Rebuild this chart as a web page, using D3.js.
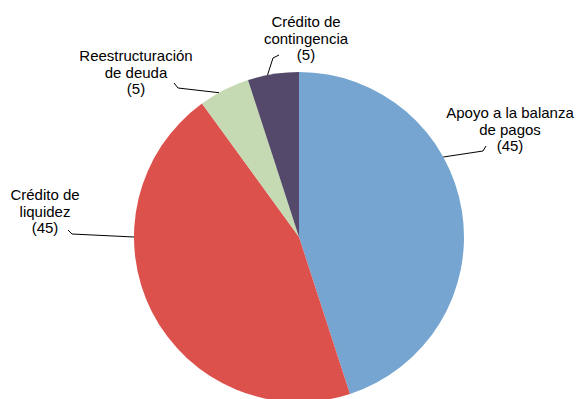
<!DOCTYPE html>
<html>
<head>
<meta charset="utf-8">
<script src="https://cdn.jsdelivr.net/npm/d3@7"></script>
<style>
  html, body { margin: 0; padding: 0; background: #fff; }
  svg { display: block; }
  text { font-family: "Liberation Sans", Arial, sans-serif; font-size: 15px; fill: #000; }
</style>
</head>
<body>
<svg id="chart" width="577" height="399"></svg>
<script>
// Distribution of programmes by type (number of arrangements)
const categories = ["Apoyo a la balanza de pagos", "Crédito de liquidez", "Reestructuración de deuda", "Crédito de contingencia"];
const values = [45, 45, 5, 5];
const labelLines = [
  ["Apoyo a la balanza", "de pagos", "(45)"],
  ["Crédito de", "liquidez", "(45)"],
  ["Reestructuración", "de deuda", "(5)"],
  ["Crédito de", "contingencia", "(5)"]
];
const colors = ["#75a5d0", "#dd514c", "#c5d9b2", "#54496a"];

// Label layout: text centre, first baseline, leader anchor angle on the rim (degrees), elbow points
const labelLayout = [
  { x: 510, y: 118, anchorDeg: 61, elbow: [[483, 151], [486, 146]] },
  { x: 45, y: 200, anchorDeg: 270, elbow: [[72, 234], [68, 230]] },
  { x: 136, y: 61, anchorDeg: 331, elbow: [[178, 88], [174, 83]] },
  { x: 306, y: 27, anchorDeg: 349, elbow: [[273, 58], [279, 55]] }
];
const lineStep = 16.5;

const svg = d3.select("#chart");
const cx = 299, cy = 237, radius = 165;

const pie = d3.pie().sort(null).value(d => d);
const arc = d3.arc().innerRadius(0).outerRadius(radius);

const g = svg.append("g").attr("transform", `translate(${cx},${cy})`);

g.selectAll("path.slice")
  .data(pie(values))
  .join("path")
  .attr("class", "slice")
  .attr("d", arc)
  .attr("fill", (d, i) => colors[i]);

// Leader lines from the rim to each label
const rimPoint = deg => {
  const a = deg * Math.PI / 180;
  return [cx + radius * Math.sin(a), cy - radius * Math.cos(a)];
};
const line = d3.line();
labelLayout.forEach((L, i) => {
  const pts = [rimPoint(L.anchorDeg), ...L.elbow];
  svg.append("path")
    .attr("d", line(pts))
    .attr("fill", "none")
    .attr("stroke", "#000")
    .attr("stroke-width", 1);
});

// Labels
labelLayout.forEach((L, i) => {
  const t = svg.append("text")
    .attr("text-anchor", "middle")
    .attr("x", L.x)
    .attr("y", L.y);
  labelLines[i].forEach((s, j) => {
    t.append("tspan")
      .attr("x", L.x)
      .attr("dy", j === 0 ? 0 : lineStep)
      .text(s);
  });
});
</script>
</body>
</html>
